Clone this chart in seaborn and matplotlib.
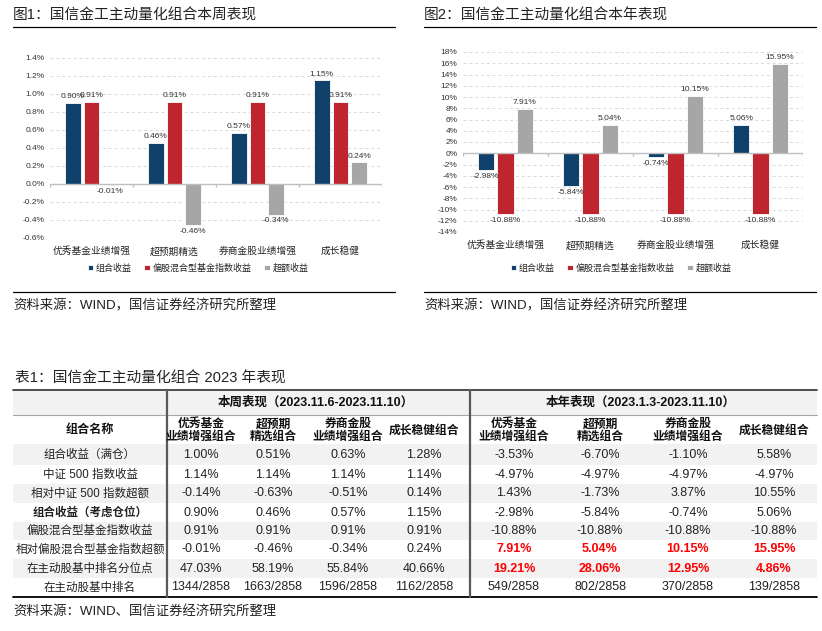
import matplotlib
matplotlib.use('Agg')
import matplotlib.pyplot as plt
from matplotlib.patches import Rectangle
import pandas as pd
import seaborn as sns

# ---- chart data ----
categories = ['优秀基金业绩增强', '超预期精选', '券商金股业绩增强', '成长稳健']
series = ['组合收益', '偏股混合型基金指数收益', '超额收益']
week_port = [0.90, 0.46, 0.57, 1.15]
week_index = [0.91, 0.91, 0.91, 0.91]
week_excess = [-0.01, -0.46, -0.34, 0.24]
year_port = [-2.98, -5.84, -0.74, 5.06]
year_index = [-10.88, -10.88, -10.88, -10.88]
year_excess = [7.91, 5.04, 10.15, 15.95]

# ---- table data ----
row_names = ['组合收益（满仓）', '中证 500 指数收益', '相对中证 500 指数超额', '组合收益（考虑仓位）',
             '偏股混合型基金指数收益', '相对偏股混合型基金指数超额', '在主动股基中排名分位点', '在主动股基中排名']
col_heads = ['优秀基金\n业绩增强组合', '超预期\n精选组合', '券商金股\n业绩增强组合', '成长稳健组合']
week_head = '本周表现（2023.11.6-2023.11.10）'
year_head = '本年表现（2023.1.3-2023.11.10）'
week_table = [
    ['1.00%', '0.51%', '0.63%', '1.28%'],
    ['1.14%', '1.14%', '1.14%', '1.14%'],
    ['-0.14%', '-0.63%', '-0.51%', '0.14%'],
    ['0.90%', '0.46%', '0.57%', '1.15%'],
    ['0.91%', '0.91%', '0.91%', '0.91%'],
    ['-0.01%', '-0.46%', '-0.34%', '0.24%'],
    ['47.03%', '58.19%', '55.84%', '40.66%'],
    ['1344/2858', '1663/2858', '1596/2858', '1162/2858'],
]
year_table = [
    ['-3.53%', '-6.70%', '-1.10%', '5.58%'],
    ['-4.97%', '-4.97%', '-4.97%', '-4.97%'],
    ['1.43%', '-1.73%', '3.87%', '10.55%'],
    ['-2.98%', '-5.84%', '-0.74%', '5.06%'],
    ['-10.88%', '-10.88%', '-10.88%', '-10.88%'],
    ['7.91%', '5.04%', '10.15%', '15.95%'],
    ['19.21%', '28.06%', '12.95%', '4.86%'],
    ['549/2858', '802/2858', '370/2858', '139/2858'],
]
red_rows = [5, 6]  # highlighted rows in the year block

colors = ['#00427a', '#d70c19', '#a6a6a6']

sns.set_style('white')
plt.rcParams['font.family'] = ['Liberation Sans', 'Noto Sans CJK SC', 'DejaVu Sans']
plt.rcParams['axes.unicode_minus'] = False

W, H = 822, 631
fig = plt.figure(figsize=(W / 100, H / 100), dpi=100)

# overlay axes in pixel coordinates for titles, lines and the table
ov = fig.add_axes([0, 0, 1, 1])
ov.set_xlim(0, W)
ov.set_ylim(H, 0)
ov.axis('off')


def make_df(a, b, c):
    rows = []
    for name, vals in zip(series, [a, b, c]):
        for cat, v in zip(categories, vals):
            rows.append({'组合': cat, '类型': name, '收益': v})
    return pd.DataFrame(rows)


def draw_chart(ax, df, ylim, step, fmt, tick_len):
    sns.barplot(data=df, x='组合', y='收益', hue='类型', order=categories, hue_order=series,
                palette=colors, width=0.68, gap=0.16, edgecolor='white', linewidth=0.6, ax=ax)
    ax.set_xlim(-0.5, 3.5)
    ax.set_ylim(*ylim)
    ticks = []
    t = ylim[0]
    while t <= ylim[1] + 1e-9:
        ticks.append(round(t, 4))
        t += step
    ax.set_yticks(ticks)
    ax.set_yticklabels([fmt(v) for v in ticks], fontsize=6, color='#333333')
    ax.yaxis.grid(True, linestyle=(0, (3, 3)), color='#d9d9d9', linewidth=0.7)
    ax.set_axisbelow(True)
    for s in ax.spines.values():
        s.set_visible(False)
    ax.axhline(0, color='#bfbfbf', linewidth=1.0, zorder=3)
    ax.vlines([-0.5, 0.5, 1.5, 2.5, 3.5], 0, -tick_len, color='#bfbfbf', linewidth=1.0, zorder=3)
    ax.tick_params(axis='both', length=0, pad=4)
    ax.tick_params(axis='x', labelsize=7, pad=6)
    ax.set_xlabel('')
    ax.set_ylabel('')
    for cont in ax.containers:
        ax.bar_label(cont, labels=['%.2f%%' % b.get_height() for b in cont],
                     fontsize=6, padding=2, color='#333333')
    handles, labels = ax.get_legend_handles_labels()
    ax.legend_.remove()
    return handles, labels


# chart 1
ax1 = fig.add_axes([50 / W, 1 - 238 / H, 332 / W, 180 / H])
h1, l1 = draw_chart(ax1, make_df(week_port, week_index, week_excess), (-0.6, 1.4), 0.2,
                    lambda v: '%.1f%%' % v, 0.035)
fig.legend(h1, l1, loc='center', bbox_to_anchor=(198 / W, 1 - 268 / H), ncol=3, frameon=False,
           fontsize=6.5, handlelength=0.6, handleheight=0.6, handletextpad=0.3, columnspacing=1.4)

# chart 2
ax2 = fig.add_axes([463 / W, 1 - 232 / H, 340 / W, 180 / H])
h2, l2 = draw_chart(ax2, make_df(year_port, year_index, year_excess), (-14, 18), 2,
                    lambda v: '%d%%' % v, 0.55)
fig.legend(h2, l2, loc='center', bbox_to_anchor=(621 / W, 1 - 268 / H), ncol=3, frameon=False,
           fontsize=6.5, handlelength=0.6, handleheight=0.6, handletextpad=0.3, columnspacing=1.4)

# titles, rules and sources of the charts
ov.text(13, 15, '图1：国信金工主动量化组合本周表现', fontsize=10.6, va='center', color='#222222')
ov.text(424, 15, '图2：国信金工主动量化组合本年表现', fontsize=10.6, va='center', color='#222222')
for x0, x1 in [(13, 395), (424, 816)]:
    ov.plot([x0, x1], [27, 27], color='black', linewidth=0.9)
    ov.plot([x0, x1], [292, 292], color='black', linewidth=0.9)
ov.text(13, 306, '资料来源：WIND，国信证券经济研究所整理', fontsize=9.6, va='center', color='#222222')
ov.text(424, 306, '资料来源：WIND，国信证券经济研究所整理', fontsize=9.6, va='center', color='#222222')

# ---- table ----
ov.text(15, 378, '表1：国信金工主动量化组合 2023 年表现', fontsize=10.6, va='center', color='#222222')
tl, tr = 13, 817
top, h1_bot, h2_bot = 390, 415, 444
row_edges = [444, 465, 484, 503, 522, 540, 559, 578, 597]
name_x = 90
week_x = [201, 273, 348, 424]
year_x = [514, 600, 688, 774]
sep_x = [167, 470]

ov.add_patch(Rectangle((tl, top), tr - tl, h1_bot - top, facecolor='#f2f2f2', edgecolor='none'))
for i in range(len(row_names)):
    if i % 2 == 0:
        ov.add_patch(Rectangle((tl, row_edges[i]), tr - tl, row_edges[i + 1] - row_edges[i],
                               facecolor='#f2f2f2', edgecolor='none'))
ov.plot([tl, tr], [top, top], color='#404040', linewidth=1.3)
ov.plot([tl, tr], [h1_bot, h1_bot], color='#a6a6a6', linewidth=0.8)
ov.plot([tl, tr], [row_edges[-1], row_edges[-1]], color='black', linewidth=1.3)
for x in sep_x:
    ov.plot([x, x], [top, row_edges[-1]], color='#595959', linewidth=1.6)

ov.text(316, (top + h1_bot) / 2, week_head, fontsize=9, weight='bold',
        ha='center', va='center', color='#111111')
ov.text(641, (top + h1_bot) / 2, year_head, fontsize=9, weight='bold',
        ha='center', va='center', color='#111111')
ov.text(name_x, (h1_bot + h2_bot) / 2, '组合名称', fontsize=8.7, weight='bold',
        ha='center', va='center', color='#111111')
for xs in [week_x, year_x]:
    for x, head in zip(xs, col_heads):
        ov.text(x, (h1_bot + h2_bot) / 2 + 1, head, fontsize=8.5, weight='bold', ha='center',
                va='center', color='#111111', linespacing=1.05)

for i, name in enumerate(row_names):
    yc = (row_edges[i] + row_edges[i + 1]) / 2
    ov.text(name_x, yc, name, fontsize=8.3, ha='center', va='center', color='#222222',
            weight='bold' if i == 3 else 'normal')
    for x, v in zip(week_x, week_table[i]):
        ov.text(x, yc, v, fontsize=9, ha='center', va='center', color='#222222')
    for x, v in zip(year_x, year_table[i]):
        red = i in red_rows
        ov.text(x, yc, v, fontsize=9, ha='center', va='center',
                color='#ff0000' if red else '#222222', weight='bold' if red else 'normal')

ov.text(13, 611, '资料来源：WIND、国信证券经济研究所整理', fontsize=9.6, va='center', color='#222222')

fig.savefig('out.png', dpi=100)
